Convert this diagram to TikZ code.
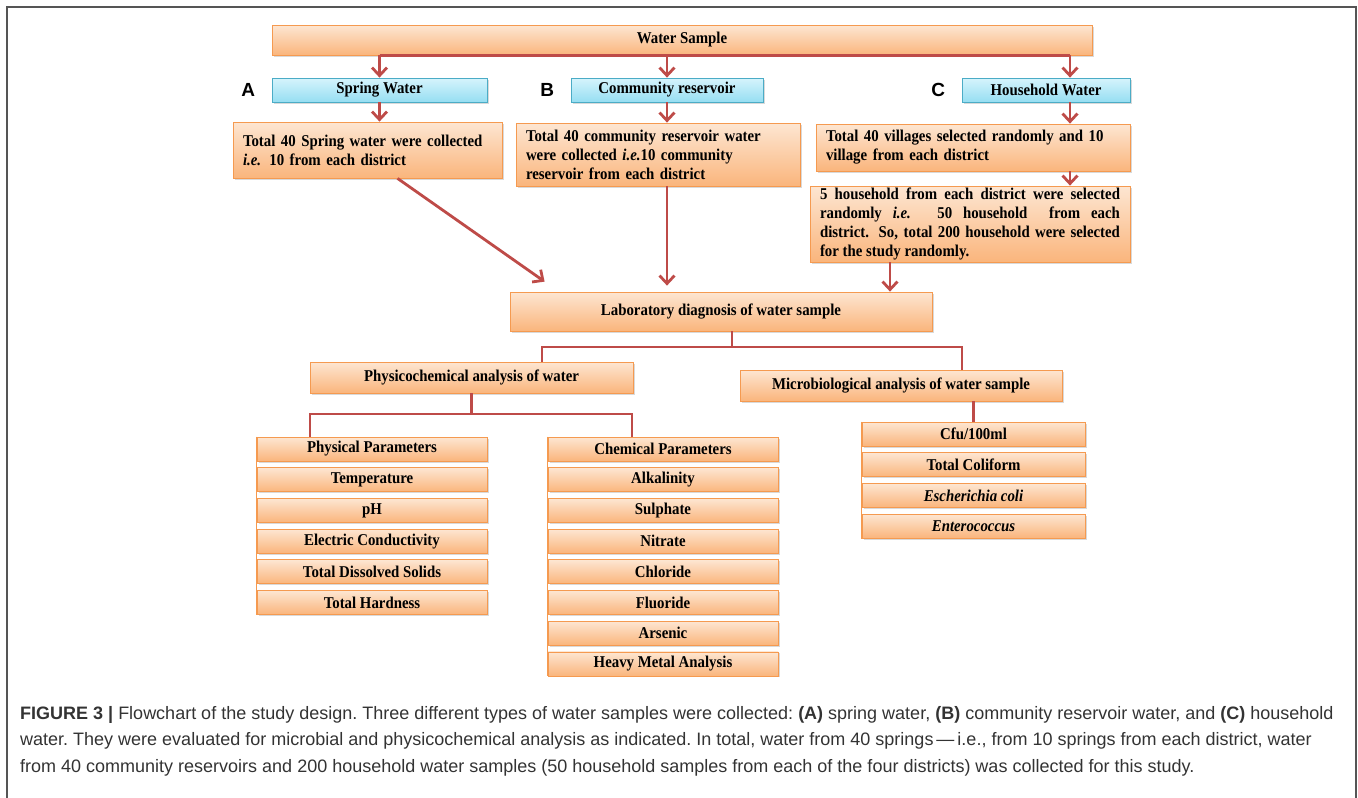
\documentclass[tikz,border=0pt]{standalone}
\usepackage{fontspec}
\setmainfont{Liberation Serif}
\newfontfamily\boxfont[FakeStretch=0.9]{Liberation Serif}
\newfontfamily\capfont{Liberation Sans}
\usetikzlibrary{arrows.meta,positioning,shadows,calc}

\definecolor{peachtop}{HTML}{FDE6D2}
\definecolor{peachbot}{HTML}{FAB57C}
\definecolor{peachline}{HTML}{F59A50}
\definecolor{skytop}{HTML}{D6F4FC}
\definecolor{skybot}{HTML}{96DEF2}
\definecolor{skyline}{HTML}{4BACC6}
\definecolor{flowred}{HTML}{BE4B48}
\definecolor{capgray}{HTML}{333333}
\definecolor{framegray}{HTML}{555555}

\tikzset{x=1pt, y=-1pt, % pixel-like units, y grows downwards
>={Straight Barb[length=8pt,width=15pt]}, % open arrow heads
flow/.style={->, draw=flowred, line width=2.8pt}, % arrows between boxes
link/.style={draw=flowred, line width=2.8pt}, % plain joins
box/.style={draw=peachline, top color=peachtop, bottom color=peachbot, line width=0.8pt,
  font=\boxfont\bfseries\fontsize{16.5}{19}\selectfont, inner sep=0pt, align=center,
  drop shadow={opacity=0.3, shadow xshift=1.5pt, shadow yshift=-1.5pt}},
srcbox/.style={box, draw=skyline, top color=skytop, bottom color=skybot, minimum height=24pt},
item/.style={box, minimum height=24pt},
tag/.style={font=\capfont\bfseries\fontsize{19}{19}\selectfont, left=13pt of #1},
}

\begin{document}
\begin{tikzpicture}
\useasboundingbox (0,0) rectangle (1358,798);
\draw[framegray, line width=1.3pt] (7,798) -- (7,7) -- (1356,7) -- (1356,798);

% sources
\node[box, minimum width=820pt, minimum height=30pt] (ws) at (682,40) {Water Sample};
\node[srcbox, minimum width=215pt] (spring) at (379.5,90) {Spring Water};
\node[srcbox, minimum width=192pt] (comm) at (667,90) {Community reservoir};
\node[srcbox, minimum width=168pt] (house) at (1046,90) {Household Water};
\node[tag=spring] (tagA) {A};
\node[tag=comm] (tagB) {B};
\node[tag=house] (tagC) {C};

% sampling
\node[box, text width=249pt, inner xsep=10pt, minimum height=56pt, align=left] (a1) at (367.5,150)
  {Total 40 Spring water were collected\\ \textit{i.e.} 10 from each district};
\node[box, text width=264pt, inner xsep=10pt, minimum height=63pt, align=left] (b1) at (658,154.5)
  {Total 40 community reservoir water\\ were collected \textit{i.e.}10 community\\ reservoir from each district};
\node[box, text width=294pt, inner xsep=10pt, minimum height=47pt, align=left] (c1) at (973,147.5)
  {Total 40 villages selected randomly and 10\\ village from each district};
\node[box, text width=300pt, inner xsep=10pt, minimum height=76pt, align=justify] (c2) at (970,224)
  {5 household from each district were selected\linebreak randomly \textit{i.e.} 50 household\ \ from each\linebreak district. So, total 200 household were selected\linebreak for the study randomly.};

% analysis
\node[box, minimum width=422pt, minimum height=39pt] (lab) at (721,311.5) {Laboratory diagnosis of water sample};
\node[box, minimum width=323pt, minimum height=31pt] (phys) at (471.5,377.5) {Physicochemical analysis of water};
\node[box, minimum width=322pt, minimum height=31pt] (micro) at (901,385.5) {Microbiological analysis of water sample};

\begin{scope}[node distance=30.7pt]
\node[item, minimum width=230pt] (pp) at (372,449) {Physical Parameters};
\node[item, minimum width=230pt, below of=pp] (pp1) {Temperature};
\node[item, minimum width=230pt, below of=pp1] (pp2) {pH};
\node[item, minimum width=230pt, below of=pp2] (pp3) {Electric Conductivity};
\node[item, minimum width=230pt, below of=pp3] (pp4) {Total Dissolved Solids};
\node[item, minimum width=230pt, below of=pp4] (pp5) {Total Hardness};

\node[item, minimum width=230pt] (cp) at (663,449) {Chemical Parameters};
\node[item, minimum width=230pt, below of=cp] (cp1) {Alkalinity};
\node[item, minimum width=230pt, below of=cp1] (cp2) {Sulphate};
\node[item, minimum width=230pt, below of=cp2] (cp3) {Nitrate};
\node[item, minimum width=230pt, below of=cp3] (cp4) {Chloride};
\node[item, minimum width=230pt, below of=cp4] (cp5) {Fluoride};
\node[item, minimum width=230pt, below of=cp5] (cp6) {Arsenic};
\node[item, minimum width=230pt, below of=cp6] (cp7) {Heavy Metal Analysis};

\node[item, minimum width=223pt] (mc) at (973.5,434) {Cfu/100ml};
\node[item, minimum width=223pt, below of=mc] (mc1) {Total Coliform};
\node[item, minimum width=223pt, below of=mc1] (mc2) {\textit{Escherichia coli}};
\node[item, minimum width=223pt, below of=mc2] (mc3) {\textit{Enterococcus}};
\end{scope}

\draw[peachline, line width=0.8pt] (pp.north west) -- (pp5.south west);
\draw[peachline, line width=0.8pt] (cp.north west) -- (cp7.south west);
\draw[peachline, line width=0.8pt] (mc.north west) -- (mc3.south west);

% connectors
\coordinate (hx) at (1070,0);
\coordinate (cx) at (890,0);
\draw[link] (ws.south -| spring) -- (ws.south -| hx);
\draw[flow] (ws.south -| spring) -- (spring.north);
\draw[flow] (ws.south -| comm) -- (comm.north);
\draw[flow] (ws.south -| hx) -- (house.north -| hx);
\draw[flow] (spring.south) -- (a1.north -| spring.south);
\draw[flow] (comm.south) -- (b1.north -| comm.south);
\draw[flow] (house.south -| hx) -- (c1.north -| hx);
\draw[flow] (c1.south -| hx) -- (c2.north -| hx);
\draw[flow] ($(a1.south)+(30,0)$) -- ($(lab.north west)+(35,-10)$);
\draw[flow, shorten >=6pt] (b1.south -| comm) -- (lab.north -| comm);
\draw[flow] (c2.south -| cx) -- (lab.north -| cx);

\coordinate (px) at (542,347);
\coordinate (mx) at (962,347);
\draw[link] ($(lab.south)+(11,0)$) -- ($(lab.south |- px)+(11,0)$);
\draw[link] (phys.north -| px) -- (px) -- (mx) -- (micro.north -| mx);

\coordinate (ppx) at (310,414);
\coordinate (cpx) at (632,414);
\draw[link] (phys.south) -- (phys.south |- ppx);
\draw[link] (pp.north -| ppx) -- (ppx) -- (cpx) -- (cp.north -| cpx);
\draw[link] (micro.south -| mc.north) -- (mc.north);

% caption
\node[anchor=base west, align=left, inner sep=0pt, text=capgray,
  font=\capfont\fontsize{18}{26.5}\selectfont\frenchspacing] (cap) at (20,772)
  {\textbf{FIGURE 3 |} Flowchart of the study design. Three different types of water samples were collected: \textbf{(A)} spring water, \textbf{(B)} community reservoir water, and \textbf{(C)} household\\
   water. They were evaluated for microbial and physicochemical analysis as indicated. In total, water from 40 springs\,—\,i.e., from 10 springs from each district, water\\
   from 40 community reservoirs and 200 household water samples (50 household samples from each of the four districts) was collected for this study.};
\end{tikzpicture}
\end{document}
